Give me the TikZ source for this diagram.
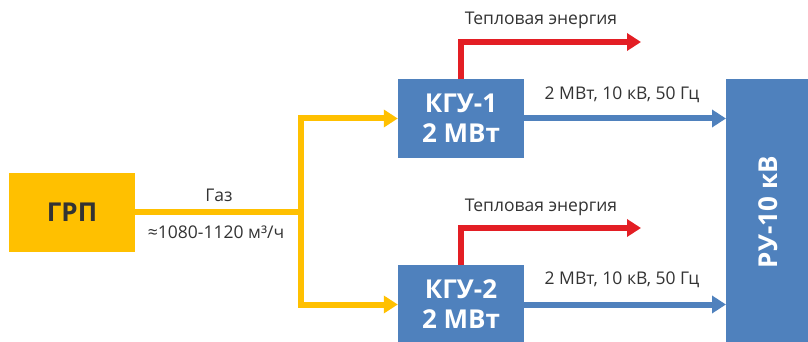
\documentclass[tikz,border=0pt]{standalone}
\usepackage{fontspec}
\setmainfont{Open Sans}
\usetikzlibrary{arrows.meta,positioning}

\definecolor{gasyellow}{HTML}{FFC000}
\definecolor{kgublue}{HTML}{4F81BD}
\definecolor{heatred}{HTML}{E31E24}
\definecolor{ink}{HTML}{333333}

\begin{document}
\begin{tikzpicture}[x=1pt, y=-1pt, >={Triangle[length=14pt,width=17pt]},
  font=\fontsize{17.5}{20}\selectfont, text=ink,
  lbl/.style={font=\fontsize{17.5}{20}\selectfont, text=ink, inner sep=0pt},
  unit/.style={minimum width=126pt, minimum height=79pt, inner sep=0pt,
    align=center, font=\fontsize{26}{30}\selectfont\bfseries},
  gasline/.style={line width=6pt, draw=gasyellow},
  heatline/.style={line width=6pt, draw=heatred},
  powerline/.style={line width=6pt, draw=kgublue},
]
\useasboundingbox (0,0) rectangle (808,342);

% Blocks
\node[unit, fill=gasyellow, text=ink] (grp) at (72,212) {ГРП};
\node[unit, fill=kgublue, text=white] (kgu1) at (461,118.5) {КГУ-1\\2 МВт};
\node[unit, fill=kgublue, text=white] (kgu2) at (461,304.5) {КГУ-2\\2 МВт};
\node[fill=kgublue, minimum width=84pt, minimum height=266pt, inner sep=0pt,
  anchor=north west] (ru) at (726,79) {};
\node[rotate=90, text=white, font=\fontsize{26}{30}\selectfont\bfseries]
  (rulbl) at (ru.center) {РУ-10 кВ};

% Gas supply
\coordinate (split) at (301,212);
\draw[gasline] (grp.east) -- (split);
\draw[gasline,->] (split) |- (kgu1.west);
\draw[gasline,->] (split) |- (kgu2.west);
\node[lbl] (gas) at (219,195) {Газ};
\node[lbl] (flow) at (216,232) {≈1080-1120 м³/ч};

% Heat output
\coordinate (heat1) at (641,42);
\coordinate (heat2) at (641,228);
\draw[heatline,->] (kgu1.north) |- (heat1);
\draw[heatline,->] (kgu2.north) |- (heat2);
\node[lbl] (heatlbl1) at (541,20) {Тепловая энергия};
\node[lbl] (heatlbl2) at (541,207) {Тепловая энергия};

% Power output
\draw[powerline,->] (kgu1.east) -- (kgu1.east -| ru.west);
\draw[powerline,->] (kgu2.east) -- (kgu2.east -| ru.west);
\node[lbl] (powlbl1) at (622,95) {2 МВт, 10 кВ, 50 Гц};
\node[lbl] (powlbl2) at (622,280) {2 МВт, 10 кВ, 50 Гц};

\end{tikzpicture}
\end{document}
